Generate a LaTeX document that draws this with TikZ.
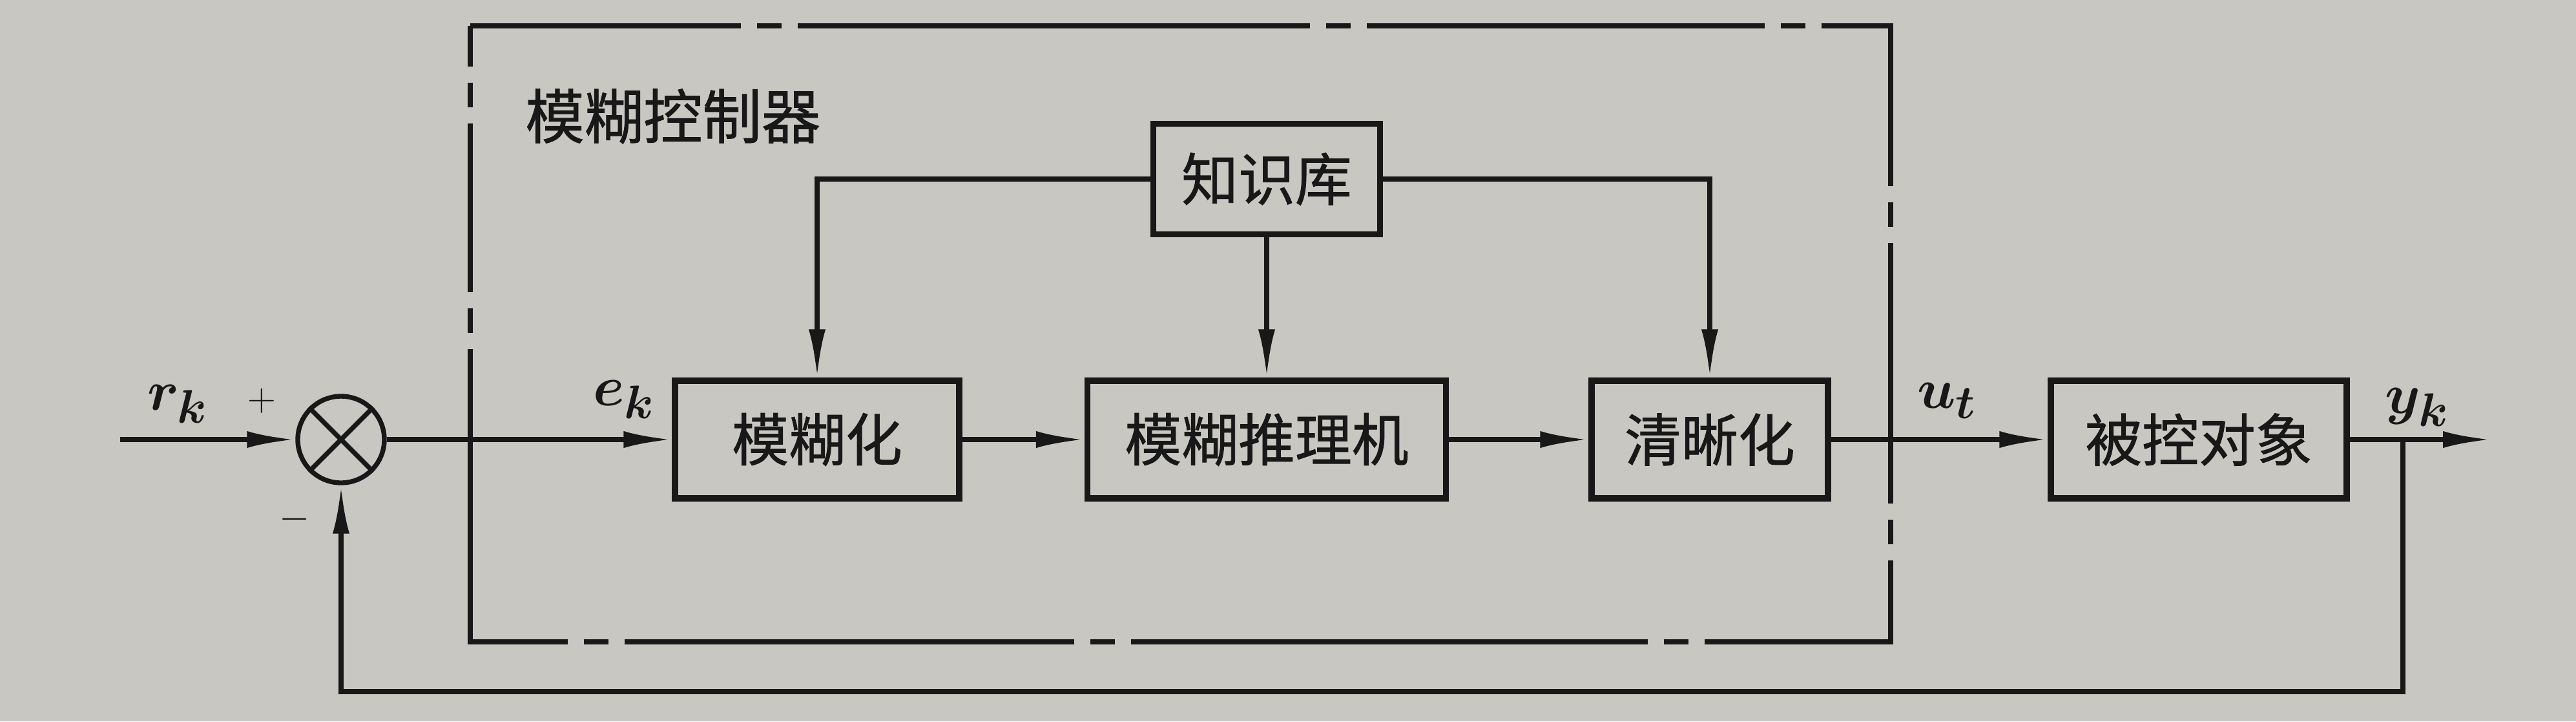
\documentclass[tikz,border=0pt]{standalone}
\usepackage{fontspec}
\newfontfamily\cjk[FakeBold=1]{Noto Sans CJK SC}
\usetikzlibrary{arrows.meta}

\definecolor{paper}{RGB}{201,199,194}
\definecolor{ink}{RGB}{24,24,24}

\begin{document}
\begin{tikzpicture}[
    ink, line width=2.1pt,
    blk/.style={draw=ink, line width=2.6pt, minimum height=1.82cm, inner sep=0pt,
      font=\cjk\fontsize{25}{30}\selectfont},
    sig/.style={-{Latex[length=7.5mm,width=2.6mm]}},
    lbl/.style={font=\fontsize{24.88}{30}\selectfont\boldmath},
    sgn/.style={font=\fontsize{17.28}{20}\selectfont},
    ctrlbox/.style={line width=2.1pt, dash phase=0.63cm,
      dash pattern=on 4.82cm off 2.5mm on 3.8mm off 2.5mm on 7.93cm off 2.5mm on 3.8mm off 2.5mm
        on 6.16cm off 2.5mm on 3.8mm off 2.5mm on 3.55cm off 2.5mm on 3.8mm off 2.5mm
        on 4.03cm off 2.5mm on 3.8mm off 2.5mm on 4.14cm off 2.5mm on 3.8mm off 2.5mm
        on 8cm off 2.5mm on 3.8mm off 2.5mm on 6.96cm off 2.5mm on 3.8mm off 2.5mm
        on 6.04cm off 2.5mm on 3.8mm off 2.5mm on 2.61cm off 2.5mm on 3.8mm off 2.5mm},
  ]
  \fill[paper] (0,0) rectangle (39.88,-11.16);

  % fuzzy controller frame
  \draw[ctrlbox] (7.28,-0.40) -- (29.27,-0.40) -- (29.27,-9.93) -- (7.28,-9.93) -- cycle;
  \node[anchor=west, font=\cjk\fontsize{26}{30}\selectfont] (title) at (7.98,-1.80) {模糊控制器};

  % blocks
  \node[draw=ink, circle, minimum size=1.34cm, inner sep=0pt, line width=2.1pt] (sum) at (5.28,-6.8) {};
  \draw (sum.north west) -- (sum.south east) (sum.north east) -- (sum.south west);
  \node[blk, minimum width=3.51cm, minimum height=1.71cm] (kb) at (19.61,-2.77) {知识库};
  \node[blk, minimum width=4.4cm] (fuzz) at (12.65,-6.8) {模糊化};
  \node[blk, minimum width=5.55cm] (infer) at (19.61,-6.8) {模糊推理机};
  \node[blk, minimum width=3.66cm] (defuzz) at (26.47,-6.8) {清晰化};
  \node[blk, minimum width=4.58cm] (plant) at (34.04,-6.8) {被控对象};

  \coordinate (in) at (1.86,-6.8);
  \coordinate (out) at (38.57,-6.8);
  \coordinate (tap) at (37.2,-6.8);
  \coordinate (fb) at (37.2,-10.7);

  % signal path
  \draw[sig] (in) -- (sum.west);
  \draw[sig] (sum.east) -- (fuzz.west);
  \draw[sig] (fuzz.east) -- (infer.west);
  \draw[sig] (infer.east) -- (defuzz.west);
  \draw[sig] (defuzz.east) -- (plant.west);
  \draw[sig] (plant.east) -- (out);
  \draw[sig] (tap) -- (fb) -| (sum.south);

  % knowledge base
  \draw[sig] (kb.west) -| (fuzz.north);
  \draw[sig] (kb.south) -- (infer.north);
  \draw[sig] (kb.east) -| (defuzz.north);

  % labels
  \node[lbl] (rk) at (2.75,-6.25) {$r_k$};
  \node[sgn] (plus) at (4.05,-6.2) {$+$};
  \node[sgn] (minus) at (4.56,-8.03) {$-$};
  \node[lbl] (ek) at (9.66,-6.18) {$e_k$};
  \node[lbl] (ut) at (30.14,-6.2) {$u_t$};
  \node[lbl] (yk) at (37.42,-6.3) {$y_k$};
\end{tikzpicture}
\end{document}
